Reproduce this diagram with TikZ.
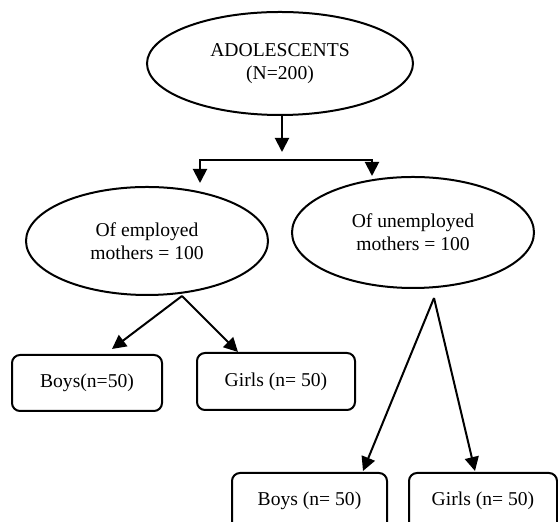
\documentclass[tikz,border=0pt]{standalone}
\usepackage{fontspec}
\setmainfont{Liberation Serif}
\usepackage{tikz}
\usetikzlibrary{calc}
\usetikzlibrary{positioning}
\usetikzlibrary{shapes.geometric}
\usetikzlibrary{arrows.meta}
\tikzstyle{popnode} = [draw, ellipse, line width=1pt, inner sep=0, align=center, font=\fontsize{9.8}{11.5}\selectfont]
\tikzstyle{groupnode} = [draw, rectangle, rounded corners=4pt, line width=1pt, inner sep=0, align=center, font=\fontsize{9.8}{11.5}\selectfont]
\tikzstyle{arr} = [line width=1pt, -{Triangle[width=7pt,length=7pt]}]

\begin{document}
\begin{tikzpicture}[x=0.5pt, y=-0.5pt]
    \useasboundingbox (0,0) rectangle (558,522);

    \node[popnode, minimum width=133pt, minimum height=51.5pt] (adol) at (280,63.5) {ADOLESCENTS\\(N=200)};
    \node[popnode, minimum width=121pt, minimum height=54pt] (empl) at ($(adol)+(-133,177.5)$) {Of employed\\mothers = 100};
    \node[popnode, minimum width=121pt, minimum height=55.5pt] (unempl) at ($(adol)+(133,169)$) {Of unemployed\\mothers = 100};

    \node[groupnode, minimum width=75pt, minimum height=28pt] (boys_e) at ($(empl)+(-60,142)$) {Boys(n=50)};
    \node[groupnode, minimum width=79pt, minimum height=28.5pt] (girls_e) at ($(empl)+(129,140.5)$) {Girls (n= 50)};
    \node[groupnode, minimum width=77.5pt, minimum height=29pt, text depth=3pt] (boys_u) at ($(unempl)+(-103.5,269.5)$) {Boys (n= 50)};
    \node[groupnode, minimum width=74pt, minimum height=29pt, text depth=3pt] (girls_u) at ($(unempl)+(70,269.5)$) {Girls (n= 50)};

    \coordinate (fork_in) at ($(adol.south)+(2,36)$);
    \coordinate (fork) at ($(adol.south)+(2,44)$);
    \coordinate (empl_in) at (200,183);
    \coordinate (unempl_in) at (372,176);
    \coordinate (empl_out) at ($(empl)+(35,55)$);
    \coordinate (unempl_out) at ($(unempl)+(21,65.5)$);

    \draw[arr] ($(adol.south)+(2,0)$) -- (fork_in);
    \draw[arr] (fork) -| (empl_in);
    \draw[arr] (fork) -| (unempl_in);

    \draw[arr] (empl_out) -- ($(boys_e.north)+(25,-5)$);
    \draw[arr] (empl_out) -- ($(girls_e.north)+(-38,0)$);

    \draw[arr] (unempl_out) -- ($(boys_u.north)+(53.5,-1)$);
    \draw[arr] (unempl_out) -- ($(girls_u.north)+(-8,-1)$);
\end{tikzpicture}
\end{document}
